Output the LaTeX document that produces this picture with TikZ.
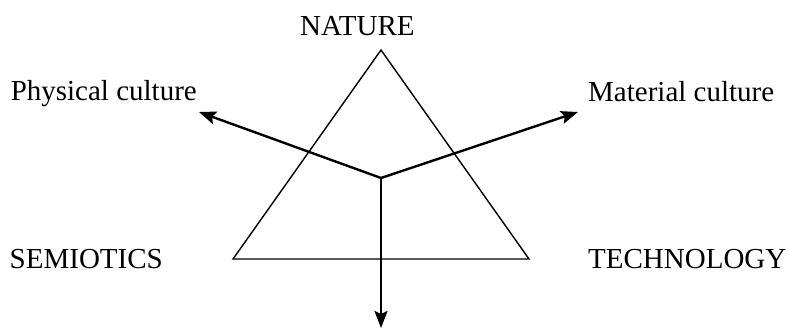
\documentclass[tikz,border=0pt]{standalone}
\usepackage{fontspec}
\setmainfont{Liberation Serif}
\usetikzlibrary{arrows.meta}
\begin{document}
\begin{tikzpicture}[x=1pt,y=-1pt,
  lbl/.style={inner sep=0pt,font=\fontsize{29}{34}\selectfont},
  tri/.style={line width=1.4pt},
  arr/.style={line width=2.4pt,-{Stealth[length=17pt,width=13pt,inset=3pt]}}]
\useasboundingbox (0,0) rectangle (788,335);
\coordinate (apex) at (381,50);
\coordinate (bl) at (233,259);
\coordinate (br) at (529,259);
\coordinate (c) at (381,178);
\coordinate (lt) at (199,112);
\coordinate (rt) at (578,112);
\coordinate (dt) at (381,328);
\draw[tri,line join=miter] (apex) -- (bl) -- (br) -- cycle;
\draw[arr] (c) -- (lt);
\draw[arr] (c) -- (rt);
\draw[arr] (c) -- (dt);
\node[lbl,anchor=base west] (nat) at (300,35) {NATURE};
\node[lbl,anchor=base east] (phys) at (197,100) {Physical culture};
\node[lbl,anchor=base west] (mat) at (588,101) {Material culture};
\node[lbl,anchor=base east] (sem) at (163,268) {SEMIOTICS};
\node[lbl,anchor=base west] (tech) at (588,268) {TECHNOLOGY};
\end{tikzpicture}
\end{document}
